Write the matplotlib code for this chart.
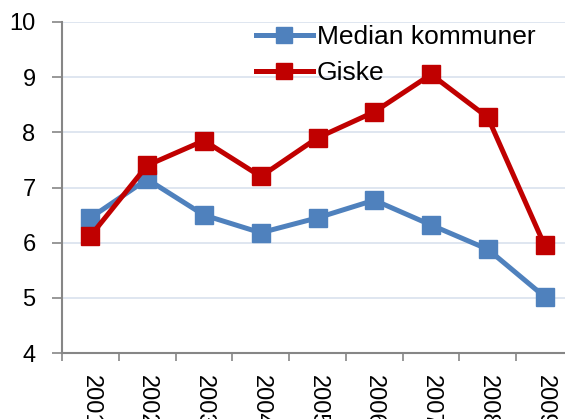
import numpy as np
import matplotlib.pyplot as plt

years = ["2001", "2002", "2003", "2004", "2005", "2006", "2007", "2008", "2009"]
median_kommuner = [6.45, 7.15, 6.50, 6.18, 6.45, 6.77, 6.32, 5.88, 5.02]
giske = [6.12, 7.40, 7.85, 7.20, 7.90, 8.37, 9.05, 8.27, 5.95]

plt.rcParams['font.family'] = ['Liberation Sans', 'DejaVu Sans']

fig = plt.figure(figsize=(5.65, 4.19), dpi=100)
ax = fig.add_axes([62 / 565, 66 / 419, 511 / 565, 331 / 419])

x = np.arange(1, len(years) + 1)
ax.plot(x, median_kommuner, color="#4F81BD", linewidth=3.6, marker="s",
        markersize=13.5, label="Median kommuner", clip_on=False, zorder=3)
ax.plot(x, giske, color="#C00000", linewidth=3.6, marker="s",
        markersize=13.5, label="Giske", clip_on=False, zorder=4)

ax.set_xlim(0.5, len(years) + 0.5)
ax.set_ylim(4, 10)
ax.set_yticks(range(4, 11))
ax.grid(axis="y", color="#D9E2EE", linewidth=1.2)
ax.set_axisbelow(True)

ax.set_xticks(x)
ax.set_xticklabels(years, rotation=-90, va="top", ha="center", fontsize=17)
ax.set_xticks(np.arange(0.5, len(years) + 1), minor=True)
ax.tick_params(axis="x", which="major", length=0, pad=16)
ax.tick_params(axis="x", which="minor", length=6, width=1.2, color="#868686", direction="out")
ax.tick_params(axis="y", length=7, width=1.2, color="#868686", direction="out",
               labelsize=17, pad=12)

for side in ["top", "right"]:
    ax.spines[side].set_visible(False)
for side in ["left", "bottom"]:
    ax.spines[side].set_color("#868686")
    ax.spines[side].set_linewidth(1.5)

ax.legend(loc="upper left", bbox_to_anchor=(256 / 565, 1 - 25 / 419),
          bbox_transform=fig.transFigure, frameon=False, fontsize=19,
          handlelength=2.15, handletextpad=0.15, labelspacing=0.45,
          borderpad=0, borderaxespad=0, markerscale=0.9)

fig.savefig("out.png", dpi=100)
